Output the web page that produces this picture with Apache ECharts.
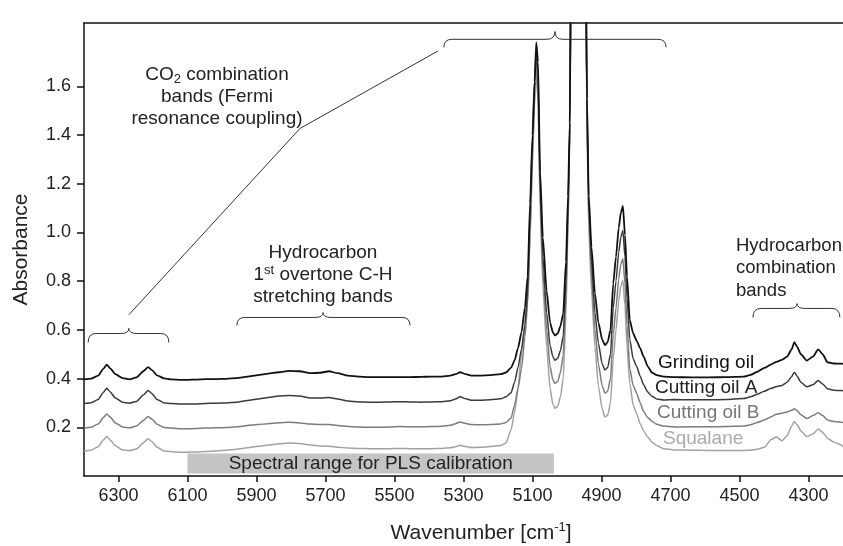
<!DOCTYPE html>
<html>
<head>
<meta charset="utf-8">
<script src="https://cdn.jsdelivr.net/npm/echarts@6/dist/echarts.min.js"></script>
<style>
  html, body { margin: 0; padding: 0; background: #fff; }
  #main { width: 843px; height: 546px; }
</style>
</head>
<body>
<div id="main"></div>
<script>
// NIR spectra, offset by sample
var wavenumber = [
  6400, 6379, 6359, 6344, 6334, 6324, 6309, 6288, 6268, 6248,
  6228, 6214, 6203, 6188, 6168, 6148, 6117, 6097, 6077, 6047,
  6017, 5987, 5957, 5926, 5896, 5866, 5836, 5806, 5775, 5745,
  5715, 5690, 5665, 5635, 5604, 5574, 5544, 5514, 5484, 5454,
  5423, 5393, 5363, 5338, 5323, 5310, 5293, 5278, 5252, 5222,
  5192, 5177, 5162, 5152, 5142, 5132, 5122, 5114, 5107, 5100,
  5094, 5089, 5084, 5078, 5070, 5059, 5049, 5041, 5035, 5027,
  5019, 5011, 5003, 4997, 4992, 4988, 4966, 4946, 4942, 4937,
  4929, 4919, 4909, 4898, 4890, 4882, 4874, 4866, 4858, 4850,
  4844, 4838, 4832, 4826, 4818, 4808, 4798, 4788, 4778, 4766,
  4754, 4740, 4720, 4689, 4639, 4589, 4539, 4488, 4468, 4448,
  4428, 4408, 4393, 4377, 4362, 4349, 4341, 4333, 4322, 4305,
  4287, 4272, 4259, 4245, 4227, 4206, 4200
];

var grindingOil = [
  0.397, 0.400, 0.412, 0.440, 0.457, 0.442, 0.418, 0.402, 0.397, 0.405,
  0.430, 0.447, 0.435, 0.413, 0.401, 0.397, 0.395, 0.395, 0.396, 0.398,
  0.398, 0.399, 0.402, 0.408, 0.414, 0.420, 0.426, 0.432, 0.430, 0.422,
  0.424, 0.430, 0.422, 0.412, 0.408, 0.406, 0.406, 0.406, 0.406, 0.406,
  0.407, 0.408, 0.408, 0.412, 0.418, 0.426, 0.418, 0.412, 0.412, 0.414,
  0.418, 0.425, 0.445, 0.475, 0.525, 0.590, 0.690, 0.820, 1.120, 1.400,
  1.620, 1.780, 1.700, 1.250, 0.980, 0.760, 0.630, 0.590, 0.577, 0.585,
  0.615, 0.667, 0.880, 1.150, 1.450, 2.200, 2.500, 2.200, 1.550, 1.150,
  0.940, 0.750, 0.630, 0.560, 0.537, 0.550, 0.600, 0.790, 0.900, 1.020,
  1.080, 1.109, 0.990, 0.820, 0.640, 0.585, 0.555, 0.525, 0.490, 0.450,
  0.425, 0.414, 0.408, 0.406, 0.405, 0.405, 0.406, 0.408, 0.415, 0.428,
  0.444, 0.458, 0.469, 0.477, 0.490, 0.520, 0.550, 0.530, 0.500, 0.474,
  0.490, 0.520, 0.500, 0.467, 0.462, 0.461, 0.460
];

var cuttingOilA = [
  0.298, 0.301, 0.314, 0.343, 0.360, 0.345, 0.320, 0.303, 0.299, 0.306,
  0.333, 0.351, 0.338, 0.314, 0.300, 0.298, 0.296, 0.296, 0.296, 0.298,
  0.299, 0.300, 0.303, 0.310, 0.316, 0.322, 0.328, 0.331, 0.328, 0.320,
  0.320, 0.322, 0.316, 0.308, 0.304, 0.303, 0.303, 0.304, 0.305, 0.304,
  0.303, 0.304, 0.305, 0.309, 0.316, 0.325, 0.317, 0.311, 0.311, 0.313,
  0.317, 0.325, 0.342, 0.385, 0.445, 0.520, 0.620, 0.760, 1.080, 1.380,
  1.620, 1.750, 1.650, 1.200, 0.900, 0.670, 0.535, 0.490, 0.475, 0.483,
  0.515, 0.575, 0.800, 1.100, 1.420, 2.200, 2.500, 2.200, 1.500, 1.120,
  0.880, 0.670, 0.545, 0.460, 0.435, 0.445, 0.500, 0.690, 0.800, 0.920,
  0.980, 1.008, 0.900, 0.730, 0.560, 0.480, 0.450, 0.410, 0.375, 0.345,
  0.327, 0.316, 0.312, 0.314, 0.313, 0.313, 0.314, 0.318, 0.325, 0.336,
  0.348, 0.360, 0.367, 0.372, 0.385, 0.408, 0.426, 0.410, 0.385, 0.366,
  0.375, 0.392, 0.378, 0.358, 0.352, 0.351, 0.350
];

var cuttingOilB = [
  0.197, 0.200, 0.213, 0.240, 0.255, 0.242, 0.218, 0.201, 0.198, 0.205,
  0.228, 0.244, 0.233, 0.212, 0.199, 0.197, 0.194, 0.194, 0.195, 0.197,
  0.198, 0.199, 0.202, 0.207, 0.211, 0.215, 0.219, 0.221, 0.218, 0.213,
  0.211, 0.211, 0.207, 0.203, 0.201, 0.200, 0.200, 0.201, 0.203, 0.202,
  0.202, 0.203, 0.204, 0.208, 0.215, 0.222, 0.216, 0.211, 0.210, 0.211,
  0.214, 0.220, 0.238, 0.290, 0.360, 0.440, 0.570, 0.710, 1.000, 1.320,
  1.580, 1.700, 1.580, 1.150, 0.840, 0.600, 0.450, 0.395, 0.380, 0.388,
  0.425, 0.495, 0.740, 1.060, 1.400, 2.200, 2.500, 2.200, 1.450, 1.070,
  0.820, 0.600, 0.460, 0.370, 0.340, 0.348, 0.400, 0.580, 0.690, 0.810,
  0.870, 0.892, 0.790, 0.620, 0.440, 0.370, 0.340, 0.300, 0.265, 0.240,
  0.225, 0.212, 0.205, 0.201, 0.202, 0.202, 0.203, 0.205, 0.210, 0.220,
  0.230, 0.243, 0.254, 0.258, 0.263, 0.270, 0.276, 0.268, 0.252, 0.236,
  0.248, 0.260, 0.248, 0.230, 0.224, 0.221, 0.220
];

var squalane = [
  0.103, 0.106, 0.120, 0.148, 0.162, 0.148, 0.124, 0.107, 0.104, 0.111,
  0.136, 0.153, 0.141, 0.118, 0.103, 0.100, 0.098, 0.098, 0.099, 0.101,
  0.103, 0.106, 0.110, 0.116, 0.122, 0.127, 0.132, 0.135, 0.133, 0.127,
  0.123, 0.122, 0.118, 0.115, 0.113, 0.112, 0.112, 0.112, 0.113, 0.112,
  0.112, 0.112, 0.113, 0.116, 0.120, 0.126, 0.121, 0.117, 0.118, 0.121,
  0.125, 0.135, 0.190, 0.260, 0.360, 0.500, 0.620, 0.720, 0.980, 1.280,
  1.520, 1.660, 1.540, 1.100, 0.780, 0.530, 0.360, 0.295, 0.278, 0.286,
  0.325, 0.400, 0.660, 1.020, 1.380, 2.200, 2.500, 2.200, 1.400, 1.020,
  0.760, 0.530, 0.370, 0.275, 0.242, 0.250, 0.300, 0.480, 0.600, 0.720,
  0.780, 0.803, 0.700, 0.530, 0.380, 0.290, 0.255, 0.215, 0.185, 0.160,
  0.140, 0.125, 0.112, 0.107, 0.106, 0.105, 0.105, 0.105, 0.106, 0.110,
  0.118, 0.150, 0.160, 0.145, 0.165, 0.205, 0.224, 0.210, 0.185, 0.162,
  0.172, 0.193, 0.180, 0.155, 0.140, 0.128, 0.120
];

var seriesNames = ['Grinding oil', 'Cutting oil A', 'Cutting oil B', 'Squalane'];
var seriesColors = ['#111111', '#3a3a3a', '#7c7c7c', '#a2a2a2'];
var labelColors = ['#111111', '#222222', '#777777', '#aaaaaa'];

var xTicks = [6300, 6100, 5900, 5700, 5500, 5300, 5100, 4900, 4700, 4500, 4300];
var yTicks = [0.2, 0.4, 0.6, 0.8, 1.0, 1.2, 1.4, 1.6];

// braces: [from, to, end y, bar y, tip y, tip x]
var braces = [
  [6388, 6154, 0.548, 0.585, 0.606, 6270],
  [5957, 5455, 0.618, 0.651, 0.671, 5707],
  [4461, 4209, 0.651, 0.688, 0.708, 4333],
  [5357, 4713, 1.760, 1.793, 1.825, 5035]
];
var leaderLine = [[6270, 0.662], [5774, 1.427], [5374, 1.745]];
var plsRange = [6100, 5038, 0.010, 0.092];

var FONT = 'Liberation Sans, Arial, Helvetica, sans-serif';

function pairs(vals) {
  var out = [];
  for (var i = 0; i < wavenumber.length; i++) {
    out.push([wavenumber[i], vals[i]]);
  }
  return out;
}

function renderBrace(params, api) {
  var a = api.coord([api.value(0), api.value(2)]);
  var b = api.coord([api.value(1), api.value(3)]);
  var t = api.coord([api.value(5), api.value(4)]);
  var L = a[0], R = b[0], yE = a[1], yB = b[1], T = t[0], yT = t[1];
  var r = 8;
  var d = 'M' + L + ' ' + yE +
    ' Q' + L + ' ' + yB + ' ' + (L + r) + ' ' + yB +
    ' L' + (T - r) + ' ' + yB +
    ' Q' + T + ' ' + yB + ' ' + T + ' ' + yT +
    ' Q' + T + ' ' + yB + ' ' + (T + r) + ' ' + yB +
    ' L' + (R - r) + ' ' + yB +
    ' Q' + R + ' ' + yB + ' ' + R + ' ' + yE;
  return {
    type: 'path',
    shape: { pathData: d },
    style: { fill: null, stroke: '#333', lineWidth: 1 }
  };
}

var chart = echarts.init(document.getElementById('main'), null, { renderer: 'canvas' });

var allSeries = [squalane, cuttingOilB, cuttingOilA, grindingOil];
var order = [3, 2, 1, 0];
var series = [];
allSeries.forEach(function (vals, k) {
  var idx = order[k];
  var s = {
    name: seriesNames[idx],
    type: 'line',
    data: pairs(vals),
    showSymbol: false,
    smooth: 0.2,
    smoothMonotone: 'x',
    lineStyle: { color: seriesColors[idx], width: idx === 0 ? 1.8 : 1.5 },
    z: 3 + k
  };
  if (idx === 3) {
    s.markArea = {
      silent: true,
      itemStyle: { color: '#c4c4c4' },
      label: {
        show: true, position: 'inside', color: '#222',
        fontSize: 19, fontFamily: FONT
      },
      data: [[
        { name: 'Spectral range for PLS calibration', coord: [plsRange[0], plsRange[3]] },
        { coord: [plsRange[1], plsRange[2]] }
      ]]
    };
  }
  series.push(s);
});

series.push({
  type: 'line',
  data: leaderLine,
  showSymbol: false,
  lineStyle: { color: '#333', width: 1 },
  clip: false,
  z: 2
});

series.push({
  type: 'custom',
  renderItem: renderBrace,
  data: braces,
  encode: { x: [0, 1, 5], y: [2, 3, 4] },
  clip: false,
  z: 2
});

var graphics = [];
graphics.push({
  type: 'text', x: 217, y: 97, z: 10,
  style: {
    text: '{a|CO}{b|2}{a| combination}\n{a|bands (Fermi}\n{a|resonance coupling)}',
    align: 'center', verticalAlign: 'middle', fill: '#222',
    rich: {
      a: { fontSize: 19, fontFamily: FONT, lineHeight: 22 },
      b: { fontSize: 13, fontFamily: FONT, verticalAlign: 'bottom', lineHeight: 22 }
    }
  }
});
graphics.push({
  type: 'text', x: 323, y: 275, z: 10,
  style: {
    text: '{a|Hydrocarbon}\n{a|1}{c|st}{a| overtone C-H}\n{a|stretching bands}',
    align: 'center', verticalAlign: 'middle', fill: '#222',
    rich: {
      a: { fontSize: 19, fontFamily: FONT, lineHeight: 22 },
      c: { fontSize: 13, fontFamily: FONT, verticalAlign: 'top', lineHeight: 22 }
    }
  }
});
graphics.push({
  type: 'text', x: 736, y: 268, z: 10,
  style: {
    text: 'Hydrocarbon\ncombination\nbands',
    align: 'left', verticalAlign: 'middle', fill: '#222',
    fontSize: 18.5, fontFamily: FONT, lineHeight: 22.5
  }
});
var labelPos = [[658, 363], [655, 388], [657, 413], [663, 439]];
seriesNames.forEach(function (n, i) {
  graphics.push({
    type: 'text', x: labelPos[i][0], y: labelPos[i][1], z: 10,
    style: {
      text: n, align: 'left', verticalAlign: 'middle',
      fill: labelColors[i], fontSize: 19, fontFamily: FONT
    }
  });
});
graphics.push({
  type: 'text', x: 481, y: 533, z: 10,
  style: {
    text: '{a|Wavenumber [cm}{s|-1}{a|]}',
    align: 'center', verticalAlign: 'middle', fill: '#222',
    rich: {
      a: { fontSize: 21, fontFamily: FONT, lineHeight: 24 },
      s: { fontSize: 13, fontFamily: FONT, verticalAlign: 'top', lineHeight: 24 }
    }
  }
});

var axisLineStyle = { color: '#111', width: 1.5 };

var option = {
  animation: false,
  backgroundColor: '#fff',
  grid: { left: 84, right: 0, top: 23, bottom: 70 },
  xAxis: [{
    type: 'value',
    inverse: true,
    min: 4200,
    max: 6400,
    axisLine: { show: true, onZero: false, lineStyle: axisLineStyle },
    axisTick: { show: true, length: 6, customValues: xTicks, lineStyle: axisLineStyle },
    axisLabel: {
      customValues: xTicks, fontSize: 18, fontFamily: FONT, color: '#222', margin: 11,
      formatter: function (v) { return String(v); }
    },
    splitLine: { show: false }
  }, {
    type: 'value',
    position: 'top',
    inverse: true,
    min: 4200,
    max: 6400,
    axisLine: { show: true, onZero: false, lineStyle: axisLineStyle },
    axisTick: { show: false },
    axisLabel: { show: false },
    splitLine: { show: false }
  }],
  yAxis: {
    type: 'value',
    min: 0,
    max: 1.86,
    name: 'Absorbance',
    nameLocation: 'middle',
    nameGap: 52,
    nameTextStyle: { fontSize: 21, fontFamily: FONT, color: '#222' },
    axisLine: { show: true, onZero: false, lineStyle: axisLineStyle },
    axisTick: { show: true, length: 7, customValues: yTicks, lineStyle: axisLineStyle },
    axisLabel: {
      customValues: yTicks, fontSize: 18, fontFamily: FONT, color: '#222', margin: 13,
      formatter: function (v) { return v.toFixed(1); }
    },
    splitLine: { show: false }
  },
  graphic: graphics,
  series: series
};

chart.setOption(option);
</script>
</body>
</html>
